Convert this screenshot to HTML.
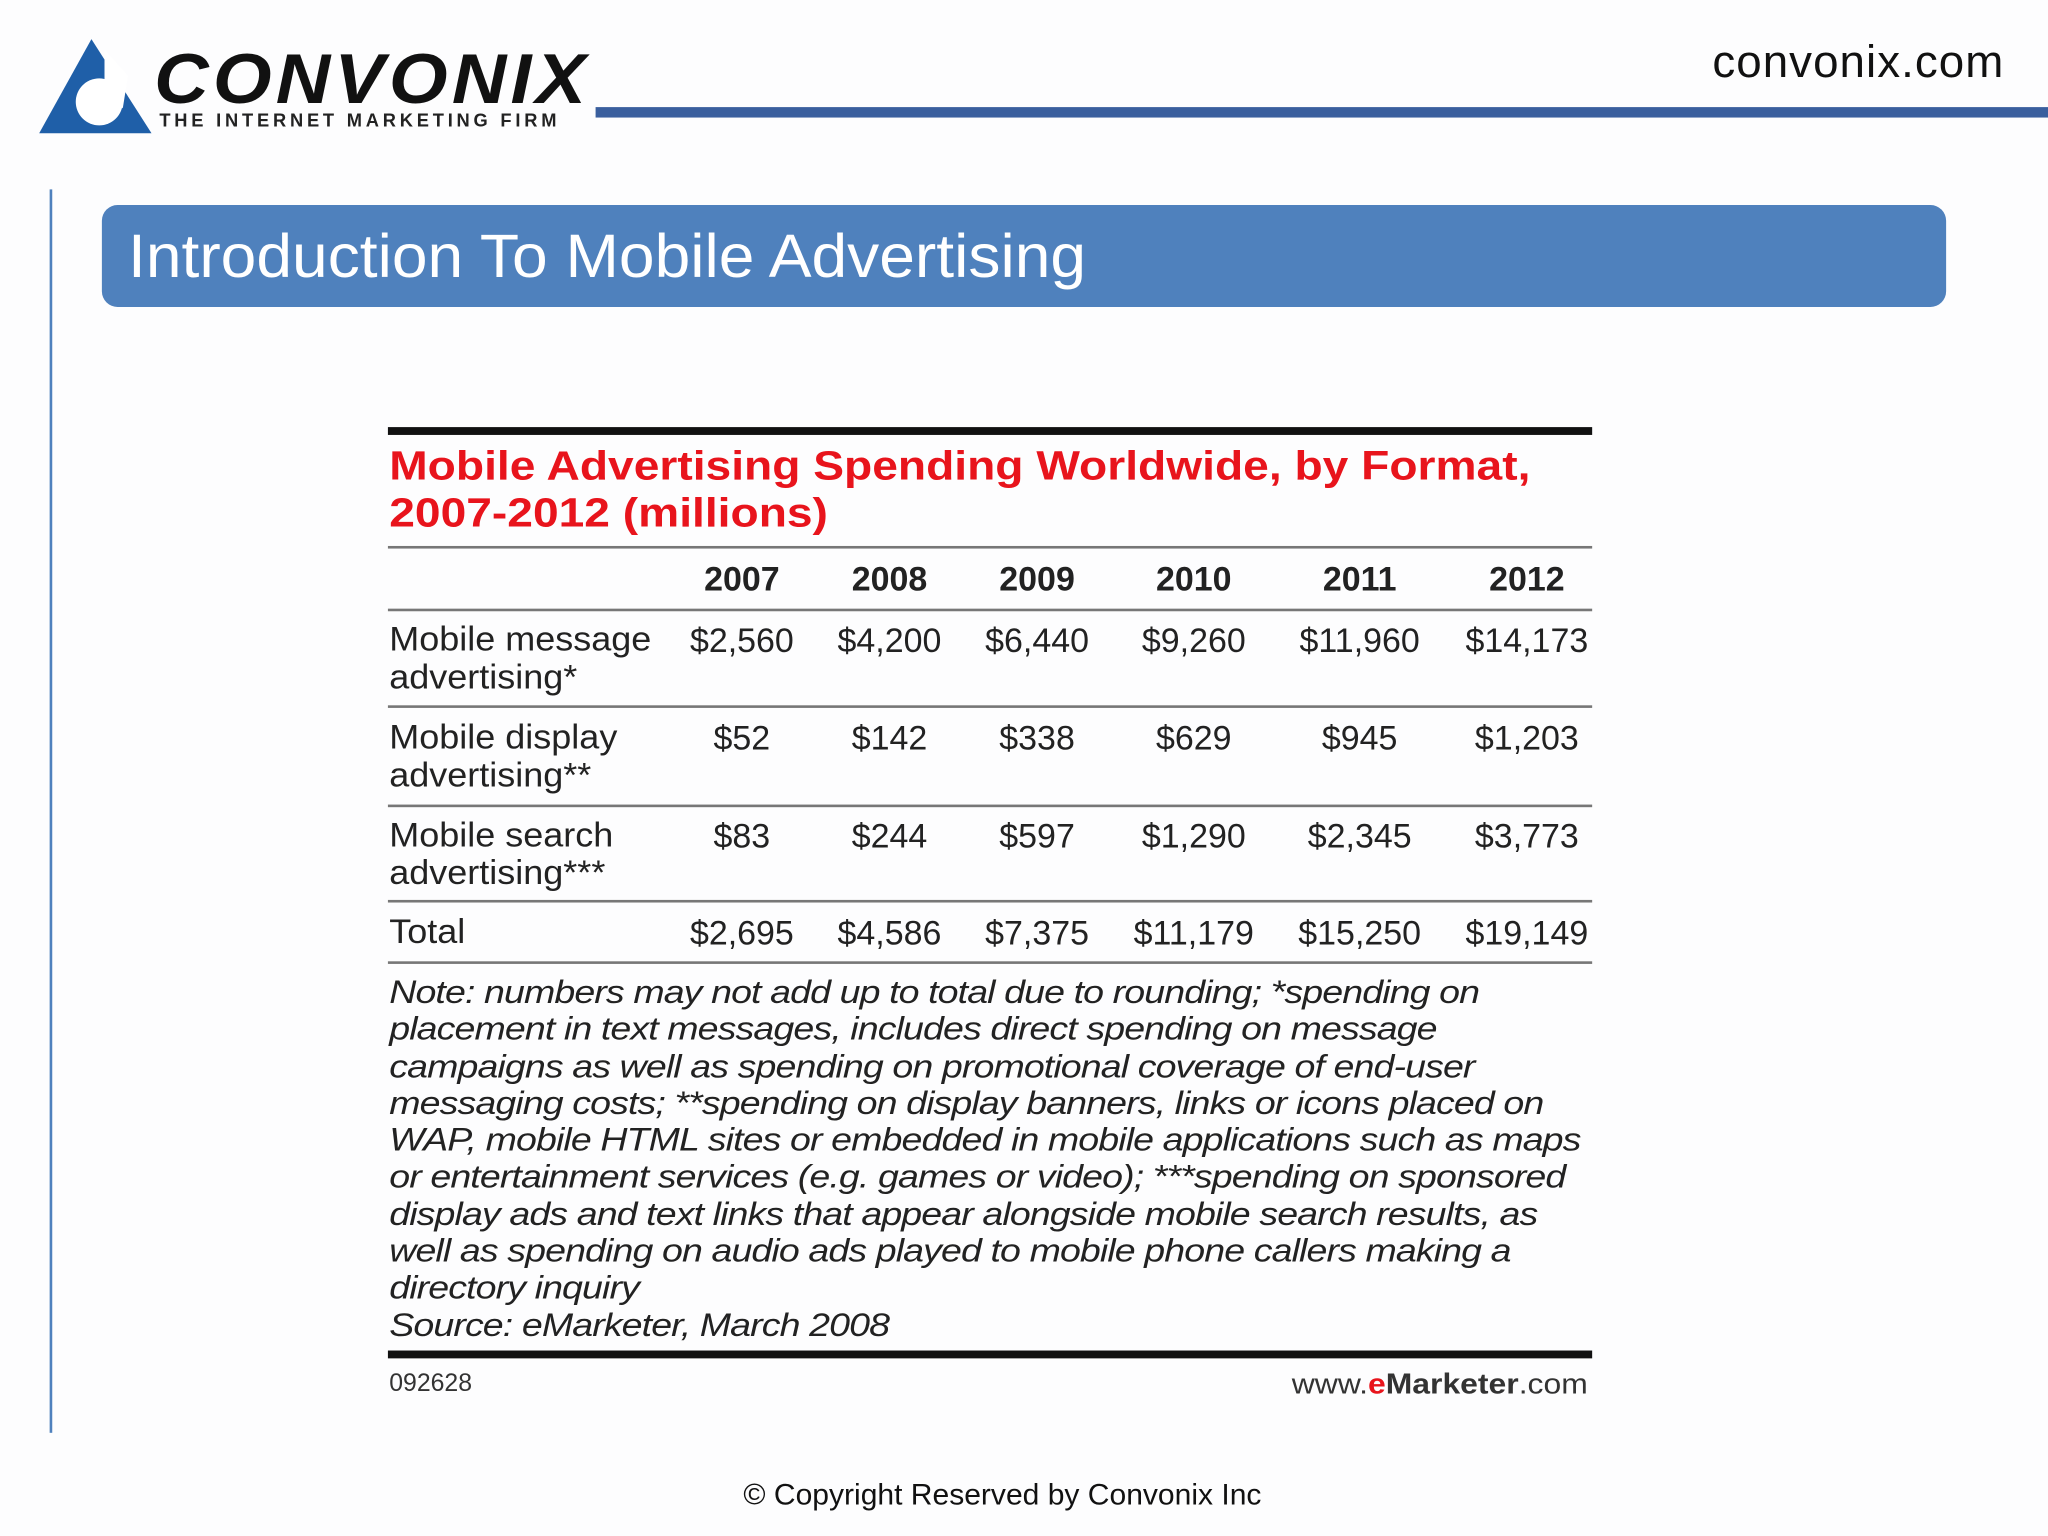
<!DOCTYPE html>
<html><head><meta charset="utf-8"><style>
body{margin:0;width:2048px;height:1536px;overflow:hidden;background:#fff;font-family:"Liberation Sans",sans-serif}
#s{position:absolute;left:0;top:0;width:1568px;height:1176px;transform:scale(1.30612);transform-origin:0 0;background:#fdfdfe}
.a{position:absolute;white-space:nowrap}
.r{position:absolute;left:297px;width:922px;background:#777;height:2px}
.c{position:absolute;text-align:center;width:130px;font-size:26px;color:#222}
.l{position:absolute;left:298px;font-size:26px;color:#222;line-height:29px;transform:scaleX(1.06);transform-origin:0 0}
.note{position:absolute;left:298px;top:746px;font-size:25px;font-style:italic;color:#222;line-height:28.3px;letter-spacing:-0.6px;transform:scaleX(1.15);transform-origin:0 0}
</style></head><body>
<div id="s">
<svg class="a" style="left:28px;top:28px" width="92" height="76"><polygon points="42,2 88,74 2,74" fill="#1f5fa8"/><circle cx="48" cy="50" r="18" fill="#fff"/><polygon points="52,10 70,30 66,55 52,40" fill="#fff"/></svg>
<div class="a" style="left:118px;top:30px;font-size:54px;font-weight:bold;font-style:italic;letter-spacing:3px;transform:scaleX(1.07);transform-origin:0 0;color:#111">CONVONIX</div>
<div class="a" style="left:122px;top:84px;font-size:14px;font-weight:bold;letter-spacing:2.9px;color:#222">THE INTERNET MARKETING FIRM</div>
<div class="a" style="left:456px;top:82px;width:1112px;height:8px;background:#3a5f9e"></div>
<div class="a" style="left:1311px;top:28px;font-size:35px;letter-spacing:0.8px;color:#111">convonix.com</div>
<div class="a" style="left:38px;top:145px;width:2px;height:952px;background:#4f81bd"></div>
<div class="a" style="left:78px;top:157px;width:1412px;height:78px;border-radius:12px;background:#4f81bd"></div>
<div class="a" style="left:98px;top:168px;font-size:47px;color:#fff;transform:scaleX(1.045);transform-origin:0 0">Introduction To Mobile Advertising</div>

<div class="r" style="top:327px;height:6px;background:#111"></div>
<div class="a" style="left:298px;top:339px;font-size:31px;font-weight:bold;color:#e8141c;line-height:36px;transform:scaleX(1.14);transform-origin:0 0">Mobile Advertising Spending Worldwide, by Format,<br>2007-2012 (millions)</div>
<div class="r" style="top:418px"></div>
<div class="r" style="top:466px"></div>
<div class="r" style="top:540px"></div>
<div class="r" style="top:616px"></div>
<div class="r" style="top:689px"></div>
<div class="r" style="top:736px"></div>
<div class="note">Note: numbers may not add up to total due to rounding; *spending on<br>placement in text messages, includes direct spending on message<br>campaigns as well as spending on promotional coverage of end-user<br>messaging costs; **spending on display banners, links or icons placed on<br>WAP, mobile HTML sites or embedded in mobile applications such as maps<br>or entertainment services (e.g. games or video); ***spending on sponsored<br>display ads and text links that appear alongside mobile search results, as<br>well as spending on audio ads played to mobile phone callers making a<br>directory inquiry<br>Source: eMarketer, March 2008</div>
<div class="r" style="top:1034px;height:6px;background:#111"></div>
<div class="a" style="left:298px;top:1049px;font-size:19px;color:#333">092628</div>
<div class="a" style="left:989px;top:1047px;font-size:22px;color:#333;transform:scaleX(1.11);transform-origin:0 0">www.<b style="color:#e8141c">e</b><b>Marketer</b>.com</div>
<div class="a" style="left:0;width:1535px;text-align:center;top:1131px;font-size:23px;color:#111">© Copyright Reserved by Convonix Inc</div>
</div>
<script>
const years=["2007","2008","2009","2010","2011","2012"];
const rowLabels=["Mobile message<br>advertising*","Mobile display<br>advertising**","Mobile search<br>advertising***","Total"];
const message=["$2,560","$4,200","$6,440","$9,260","$11,960","$14,173"];
const display=["$52","$142","$338","$629","$945","$1,203"];
const search=["$83","$244","$597","$1,290","$2,345","$3,773"];
const total=["$2,695","$4,586","$7,375","$11,179","$15,250","$19,149"];
const s=document.getElementById('s');
const cx=[568,681,794,914,1041,1169];
function add(html,cls,x,y,name,extra){const d=document.createElement('div');d.className=cls;d.innerHTML=html;d.style.top=y+'px';if(x!==null)d.style.left=(x-65)+'px';if(extra)d.style.cssText+=extra;


s.appendChild(d);}
years.forEach((y,i)=>add(y,'c',cx[i],428,'year-header','font-weight:bold'));
const series=[message,display,search,total];const ys=[475,550,625,699];
series.forEach((arr,r)=>{add(rowLabels[r],'l',null,ys[r],'row-label');arr.forEach((v,i)=>add(v,'c',cx[i],ys[r],'cell-value'));});
</script>
</body></html>
